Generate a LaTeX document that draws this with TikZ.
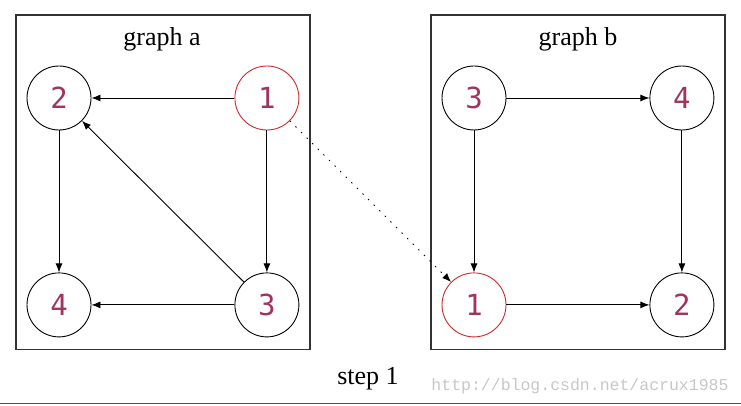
\documentclass[tikz,border=0pt]{standalone}
\usepackage{fontspec}
\setmainfont{Liberation Serif}
\newfontfamily\digitfont{DejaVu Sans Mono}
\newfontfamily\urlfont{Liberation Mono}
\usetikzlibrary{arrows.meta, positioning, fit}
\definecolor{numcol}{HTML}{A0345E}
\definecolor{visited}{HTML}{D02828}
\definecolor{framecol}{HTML}{333333}

\begin{document}
\begin{tikzpicture}[
    x=1pt, y=-1pt,
    node distance=142pt and 143pt,
    vertex/.style={draw, circle, minimum size=64pt, inner sep=0pt, line width=0.9pt, text=numcol, font=\digitfont\fontsize{29}{29}\selectfont},
    current/.style={vertex, draw=visited},
    title/.style={font=\fontsize{26}{26}\selectfont, inner sep=0pt, anchor=north},
    frame/.style={draw=framecol, line width=1.5pt, inner xsep=10.5pt, inner ysep=12pt},
    edge/.style={-{Latex[length=9pt, width=7pt]}, line width=0.9pt},
    jump/.style={edge, dash pattern=on 1.4pt off 6.5pt},
]
\useasboundingbox (0,0) rectangle (741,406);

% graph a
\node[vertex] (a2) at (59,98) {2};
\node[current, right=of a2] (a1) {1};
\node[vertex, below=of a2] (a4) {4};
\node[vertex, below=of a1] (a3) {3};
\node[title] (ta) at (162,27) {graph a};
\node[frame, fit=(ta)(a2)(a3)] (ga) {};

% graph b
\node[vertex] (b3) at (474,98) {3};
\node[vertex, right=of b3] (b4) {4};
\node[current, below=of b3] (b1) {1};
\node[vertex, below=of b4] (b2) {2};
\node[title] (tb) at (578,27) {graph b};
\node[frame, fit=(tb)(b3)(b2)] (gb) {};

% edges
\draw[edge] (a1) -- (a2);
\draw[edge] (a1) -- (a3);
\draw[edge] (a2) -- (a4);
\draw[edge] (a3) -- (a4);
\draw[edge] (a3) -- (a2);
\draw[edge] (b3) -- (b4);
\draw[edge] (b3) -- (b1);
\draw[edge] (b4) -- (b2);
\draw[edge] (b1) -- (b2);
\draw[jump] (a1) -- (b1);

% caption
\node[font=\fontsize{26}{26}\selectfont] (step) at (368,379) {step 1};
\node[font=\urlfont\fontsize{16.5}{16.5}\selectfont, text=black!22] (url) at (580,386) {http://blog.csdn.net/acrux1985};
\draw[framecol!85, line width=1.6pt] (0,403.5) -- (741,403.5);
\end{tikzpicture}
\end{document}
